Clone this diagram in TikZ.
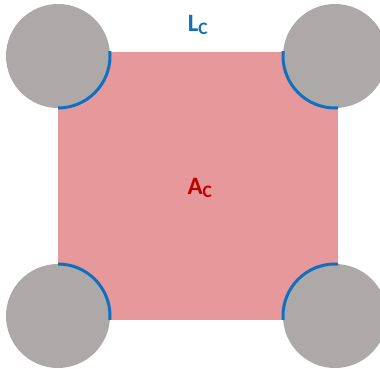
\documentclass[tikz,border=0pt]{standalone}
\usepackage{fontspec}
\setmainfont{Carlito}
\definecolor{pinkfill}{HTML}{E6989A}
\definecolor{grayfill}{HTML}{ADA9A9}
\definecolor{arcblue}{HTML}{1070C0}
\definecolor{labelred}{HTML}{C00000}
\begin{document}
\begin{tikzpicture}[x=1pt,y=1pt,
  corner/.style={fill=grayfill},
  edgearc/.style={draw=arcblue,line width=3pt},
  lbl/.style={font=\fontsize{25}{28}\selectfont\bfseries,inner sep=0pt}]
\useasboundingbox (0,0) rectangle (380,369);
\fill[pinkfill] (58,49) rectangle (338,317);
\foreach \cx/\cy in {58/313, 335/313, 58/53, 335/53}{
  \fill[corner] (\cx,\cy) circle (52);
}
\begin{scope}
  \clip (58,49) rectangle (338,317);
  \foreach \cx/\cy in {58/313, 335/313, 58/53, 335/53}{
    \draw[edgearc] (\cx,\cy) circle (52);
  }
\end{scope}
\node[lbl,text=arcblue] (lc) at (198,344) {L\textsubscript{C}};
\node[lbl,text=labelred] (ac) at (200,181) {A\textsubscript{C}};
\end{tikzpicture}
\end{document}
